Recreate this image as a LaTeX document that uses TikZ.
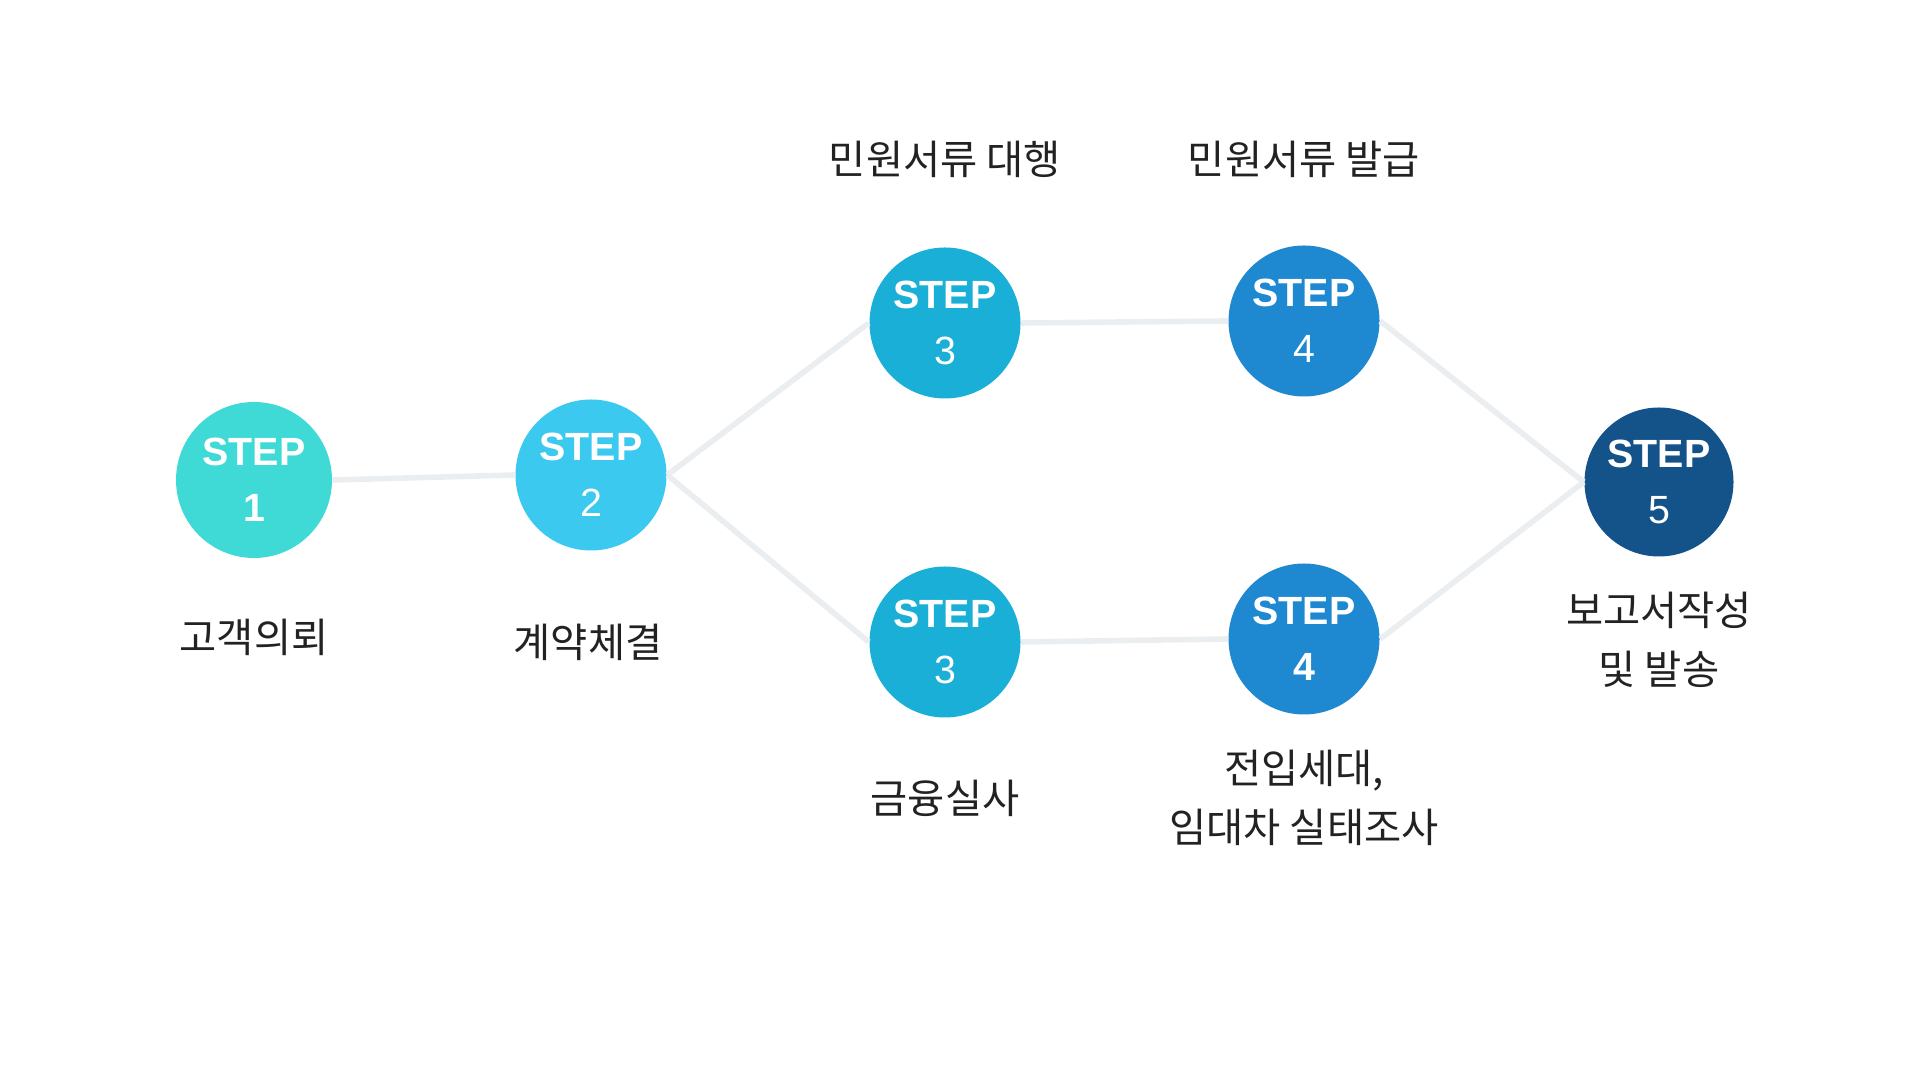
\documentclass[tikz,border=0pt]{standalone}
\usepackage{fontspec}
\setmainfont{Liberation Sans}
\newfontfamily\kr{Noto Sans CJK KR}
\usetikzlibrary{positioning}
\definecolor{stepTeal}{HTML}{40DAD6}
\definecolor{stepSky}{HTML}{3BC9F0}
\definecolor{stepCyan}{HTML}{1AAFD6}
\definecolor{stepBlue}{HTML}{1E89D1}
\definecolor{stepNavy}{HTML}{14528A}
\definecolor{linkGray}{HTML}{EBEEF1}
\definecolor{textDark}{HTML}{222222}

\begin{document}
\begin{tikzpicture}[
  stepnode/.style={circle,minimum size=1.51cm,inner sep=0pt,text=white,align=center,font=\fontsize{11.2}{16}\selectfont},
  lbl/.style={text=textDark,align=center,font=\kr\fontsize{11.5}{16.6}\selectfont},
  link/.style={linkGray,line width=1.6pt}]
\useasboundingbox (0,0) rectangle (19.2,10.8);
% steps
\node[stepnode,fill=stepTeal,minimum size=1.56cm] (s1) at (2.54,6.00) {\textbf{STEP}\\\textbf{1}};
\node[stepnode,fill=stepSky] (s2) at (5.91,6.05) {\textbf{STEP}\\2};
\node[stepnode,fill=stepCyan] (s3a) at (9.45,7.57) {\textbf{STEP}\\3};
\node[stepnode,fill=stepCyan] (s3b) at (9.45,4.38) {\textbf{STEP}\\3};
\node[stepnode,fill=stepBlue] (s4a) at (13.04,7.59) {\textbf{STEP}\\4};
\node[stepnode,fill=stepBlue] (s4b) at (13.04,4.41) {\textbf{STEP}\\\textbf{4}};
\node[stepnode,fill=stepNavy,minimum size=1.49cm] (s5) at (16.59,5.98) {\textbf{STEP}\\5};
% labels
\node[lbl] (l1) at (2.54,4.43) {고객의뢰};
\node[lbl] (l2) at (5.88,4.38) {계약체결};
\node[lbl] (l3a) at (9.45,9.21) {민원서류 대행};
\node[lbl] (l4a) at (13.04,9.21) {민원서류 발급};
\node[lbl] (l3b) at (9.45,2.82) {금융실사};
\node[lbl] (l4b) at (13.04,2.82) {전입세대,\\임대차 실태조사};
\node[lbl] (l5) at (16.59,4.40) {보고서작성\\및 발송};
% links
\draw[link] (s1.east) -- (s2.west);
\draw[link] (s2.east) -- (s3a.west);
\draw[link] (s2.east) -- (s3b.west);
\draw[link] (s3a.east) -- (s4a.west);
\draw[link] (s3b.east) -- (s4b.west);
\draw[link] (s4a.east) -- (s5.west);
\draw[link] (s4b.east) -- (s5.west);
\end{tikzpicture}
\end{document}
